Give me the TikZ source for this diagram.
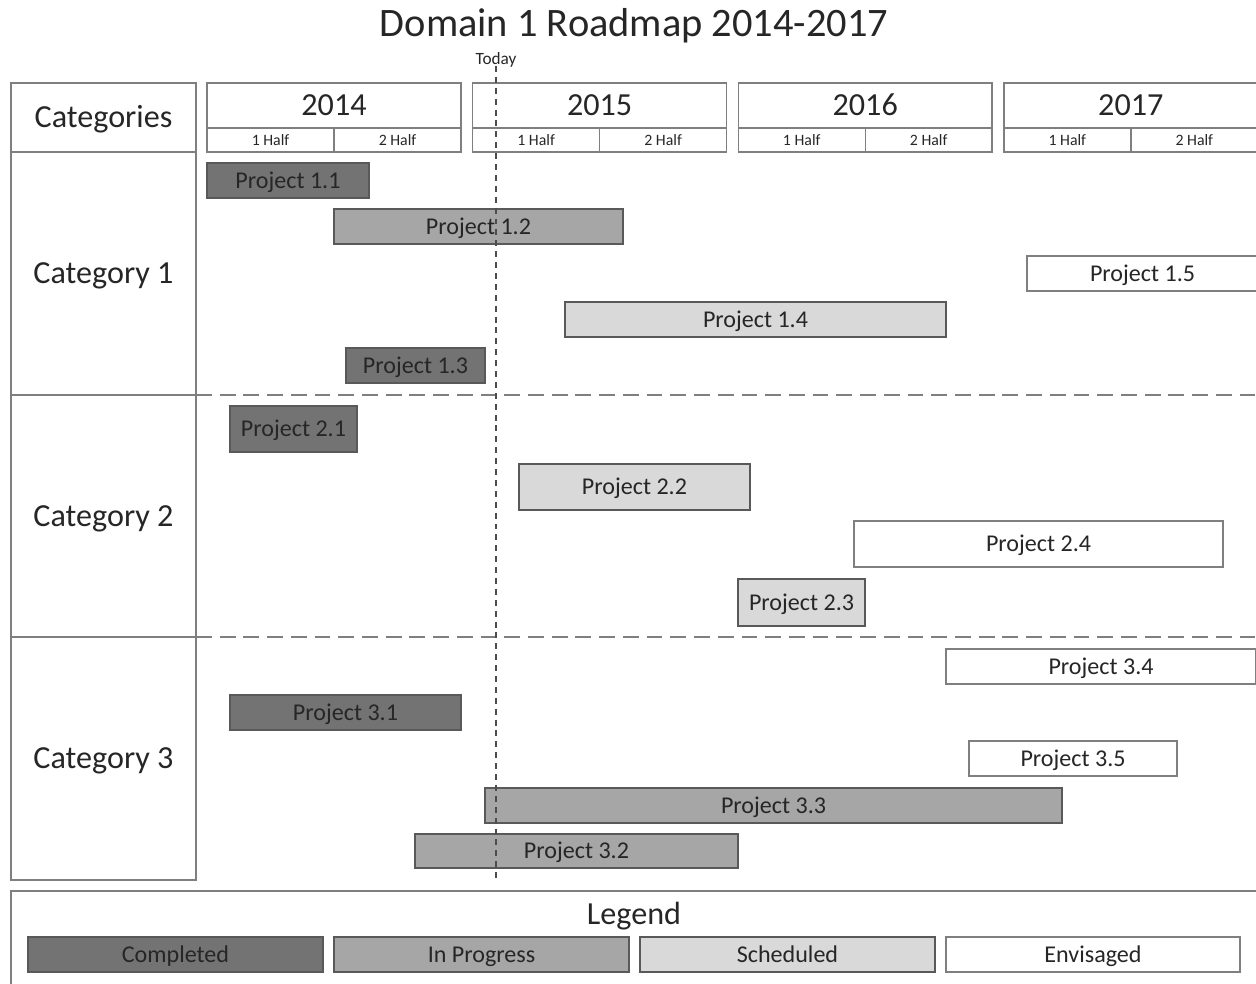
\documentclass[tikz,border=0pt]{standalone}
\usepackage{fontspec}
\setmainfont{Carlito}
\usepackage{tikz}
\usetikzlibrary{positioning}
\definecolor{donegray}{HTML}{737373}
\definecolor{proggray}{HTML}{A6A6A6}
\definecolor{schedgray}{HTML}{D9D9D9}
\definecolor{linegray}{HTML}{7F7F7F}
\definecolor{edgegray}{HTML}{595959}
\newcommand{\titlefont}{\fontsize{23}{27}\selectfont}
\newcommand{\catfont}{\fontsize{18.3}{22}\selectfont}
\newcommand{\projfont}{\fontsize{13.7}{16}\selectfont}
\newcommand{\halffont}{\fontsize{9}{11}\selectfont}
% bar: name, style, left, top, right, bottom (pixel grid), label
\newcommand{\projbox}[7]{%
  \node[#2,minimum width={(#5-#3)*0.02cm},minimum height={(#6-#4)*0.02cm}] (#1) at ({(#3+#5)/2},{(#4+#6)/2}) {#7};}

\begin{document}
\begin{tikzpicture}[x=0.02cm,y=-0.02cm,
  every node/.style={text=black!85},
  hdbox/.style={draw=linegray,line width=0.8pt,inner sep=0pt,outer sep=0pt},
  bigtext/.style={font=\catfont,text height=11.8pt,text depth=0pt},
  smalltext/.style={font=\halffont,text height=5.8pt,text depth=0pt},
  bar/.style={draw=edgegray,line width=0.8pt,inner sep=0pt,outer sep=0pt,font=\projfont,text height=8.8pt,text depth=0pt},
  done/.style={bar,fill=donegray},
  prog/.style={bar,fill=proggray},
  sched/.style={bar,fill=schedgray},
  envis/.style={bar,draw=linegray,fill=white},
  sepline/.style={draw=linegray,line width=0.8pt,dash pattern=on 9pt off 4.5pt},
  todayline/.style={draw=black!70,line width=0.7pt,dash pattern=on 3.4pt off 2.8pt}]
\clip (0,0) rectangle (1256,983);
\node[font=\titlefont,text height=14.8pt,text depth=0pt,inner sep=0pt] (title) at (634,23.5) {Domain 1 Roadmap 2014-2017};
% categories column
\node[hdbox,bigtext,minimum width=3.7cm,minimum height=1.38cm] (cathead) at (103.5,117.5) {Categories};
\node[hdbox,bigtext,minimum width=3.7cm,minimum height=4.86cm,anchor=north] (cat1) at (cathead.south) {Category 1};
\node[hdbox,bigtext,minimum width=3.7cm,minimum height=4.84cm,anchor=north] (cat2) at (cat1.south) {Category 2};
\node[hdbox,bigtext,minimum width=3.7cm,minimum height=4.86cm,anchor=north] (cat3) at (cat2.south) {Category 3};
\draw[sepline] (cat1.south east) -- ++(1100,0);
\draw[sepline] (cat2.south east) -- ++(1100,0);
% years and halves
\foreach \yr [count=\i from 0] in {2014,2015,2016,2017}{
  \pgfmathsetmacro{\xa}{207+265.6*\i}
  \node[hdbox,bigtext,minimum width=5.08cm,minimum height=0.9cm] (y\yr) at ({\xa+127},105.5) {\yr};
  \node[hdbox,smalltext,minimum width=2.54cm,minimum height=0.48cm,anchor=north west] (h\yr a) at (y\yr.south west) {1 Half};
  \node[hdbox,smalltext,minimum width=2.54cm,minimum height=0.48cm,anchor=north east] (h\yr b) at (y\yr.south east) {2 Half};
}
% category 1
\projbox{p11}{done}{207}{163}{369}{198}{Project 1.1}
\projbox{p12}{prog}{334}{209}{623}{244}{Project 1.2}
\projbox{p15}{envis}{1027}{256}{1258}{291}{Project 1.5}
\projbox{p14}{sched}{565}{302}{946}{337}{Project 1.4}
\projbox{p13}{done}{346}{348}{485}{383}{Project 1.3}
% category 2
\projbox{p21}{done}{230}{406}{357}{452}{Project 2.1}
\projbox{p22}{sched}{519}{464}{750}{510}{Project 2.2}
\projbox{p24}{envis}{854}{521}{1223}{567}{Project 2.4}
\projbox{p23}{sched}{738}{579}{865}{626}{Project 2.3}
% category 3
\projbox{p34}{envis}{946}{649}{1256}{684}{Project 3.4}
\projbox{p31}{done}{230}{695}{461}{730}{Project 3.1}
\projbox{p35}{envis}{969}{741}{1177}{776}{Project 3.5}
\projbox{p33}{prog}{485}{788}{1062}{823}{Project 3.3}
\projbox{p32}{prog}{415}{834}{738}{868}{Project 3.2}
% today marker
\coordinate (today) at (496,66);
\coordinate (todayend) at (496,880);
\node[font=\fontsize{9.8}{12}\selectfont,text height=6.3pt,text depth=0pt,inner sep=0pt] (todaylbl) at (496,59) {Today};
\draw[todayline] (today) -- (todayend);
% legend
\node[hdbox,minimum width=26cm,minimum height=2.5cm,anchor=north west] (legendbox) at (11,891) {};
\node[bigtext,inner sep=0pt] (legendlbl) at (634,914) {Legend};
\projbox{lgdone}{done}{28}{937}{323}{972}{Completed}
\projbox{lgprog}{prog}{334}{937}{629}{972}{In Progress}
\projbox{lgsched}{sched}{640}{937}{935}{972}{Scheduled}
\projbox{lgenvis}{envis}{946}{937}{1240}{972}{Envisaged}
\end{tikzpicture}
\end{document}
